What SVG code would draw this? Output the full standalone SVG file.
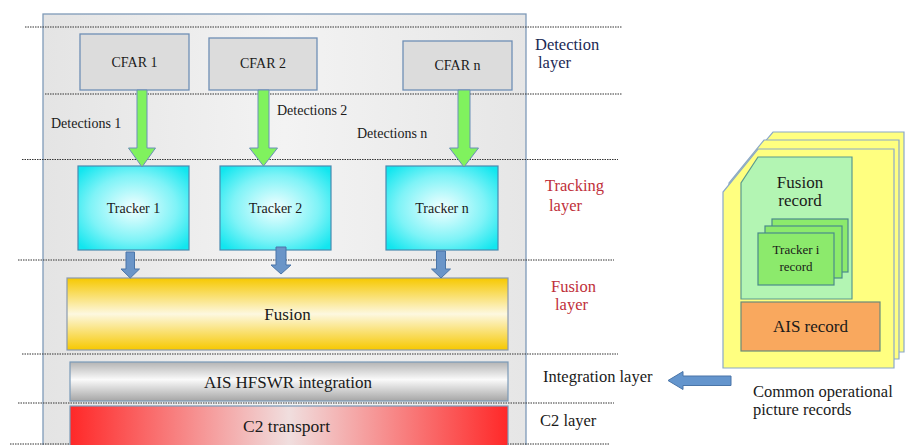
<svg xmlns="http://www.w3.org/2000/svg" width="922" height="445" viewBox="0 0 922 445" font-family="'Liberation Serif', 'Times New Roman', serif">
<defs>
<linearGradient id="gCont" x1="0" y1="0" x2="1" y2="0">
<stop offset="0" stop-color="#e4e4e4"/><stop offset="0.5" stop-color="#f3f3f3"/><stop offset="1" stop-color="#e6e6e6"/>
</linearGradient>
<radialGradient id="gTrk" cx="0.5" cy="0.5" r="0.65">
<stop offset="0" stop-color="#f2ffff"/><stop offset="0.6" stop-color="#7ef3f7"/><stop offset="1" stop-color="#12e6ef"/>
</radialGradient>
<linearGradient id="gFus" x1="0" y1="0" x2="0" y2="1">
<stop offset="0" stop-color="#f6c800"/><stop offset="0.5" stop-color="#fdf8e0"/><stop offset="1" stop-color="#f6c800"/>
</linearGradient>
<linearGradient id="gAis" x1="0" y1="0" x2="0" y2="1">
<stop offset="0" stop-color="#b4b4b4"/><stop offset="0.45" stop-color="#fafafa"/><stop offset="1" stop-color="#a6a6a6"/>
</linearGradient>
<linearGradient id="gC2" x1="0" y1="0" x2="1" y2="0">
<stop offset="0" stop-color="#ff2828"/><stop offset="0.5" stop-color="#f0dede"/><stop offset="1" stop-color="#ff2828"/>
</linearGradient>
<style>
text{font-family:'Liberation Serif','Times New Roman',serif;fill:#1a1a1a}
.dot{stroke:#333;stroke-width:1;stroke-dasharray:1.5 1;fill:none}
.cfar{fill:#dcdcdc;stroke:#6f8fb5;stroke-width:1.3}
.trk{fill:url(#gTrk);stroke:#4a8ab0;stroke-width:1.2}
.garr{fill:#80f25e;stroke:#6a8fb8;stroke-width:1}
.barr{fill:#6a95c8;stroke:#4a75a8;stroke-width:1}
.card{fill:#ffff80;stroke:#8aa8c8;stroke-width:1.2}
.t14{font-size:14px}
.t13{font-size:13px}
.t17{font-size:17px}
.mid{text-anchor:middle}
.red{fill:#c0303a}
.navy{fill:#1c2a55}
</style>
</defs>
<rect id="container" x="43" y="14" width="483" height="440" fill="url(#gCont)" stroke="#7f9ab8" stroke-width="1.3"/>
<g id="layer-lines">
<line class="dot" x1="25" y1="27" x2="622" y2="27"/>
<line class="dot" x1="45" y1="94" x2="622" y2="94"/>
<line class="dot" x1="22" y1="159.5" x2="618" y2="159.5"/>
<line class="dot" x1="18" y1="260" x2="614" y2="260"/>
<line class="dot" x1="22" y1="354" x2="618" y2="354"/>
<line class="dot" x1="18" y1="403" x2="614" y2="403"/>
<line class="dot" x1="10" y1="444" x2="610" y2="444"/>
</g>
<g id="cfar1"><rect class="cfar" x="80" y="34" width="109" height="56"/><text class="t14 mid" x="134.5" y="67" font-family="'Liberation Serif', serif">CFAR 1</text></g>
<g id="cfar2"><rect class="cfar" x="209" y="38" width="108" height="52"/><text class="t14 mid" x="263" y="68" font-family="'Liberation Serif', serif">CFAR 2</text></g>
<g id="cfarn"><rect class="cfar" x="403" y="41" width="109" height="49"/><text class="t14 mid" x="457.5" y="70" font-family="'Liberation Serif', serif">CFAR n</text></g>
<g id="tracker1"><rect class="trk" x="78" y="166" width="111" height="84"/><text class="t14 mid" x="133.5" y="213" font-family="'Liberation Serif', serif">Tracker 1</text></g>
<g id="tracker2"><rect class="trk" x="220" y="166" width="111" height="84"/><text class="t14 mid" x="275.5" y="213" font-family="'Liberation Serif', serif">Tracker 2</text></g>
<g id="trackern"><rect class="trk" x="386" y="166" width="112" height="84"/><text class="t14 mid" x="442" y="213" font-family="'Liberation Serif', serif">Tracker n</text></g>
<g id="fusion"><rect x="67" y="278" width="441" height="72" fill="url(#gFus)" stroke="#8a9ab0" stroke-width="1.2"/><text class="t17 mid" x="287.5" y="320" font-family="'Liberation Serif', serif">Fusion</text></g>
<g id="integration"><rect x="70" y="362" width="438" height="39" fill="url(#gAis)" stroke="#7a9ab8" stroke-width="1.2"/><text class="t17 mid" x="288" y="388" font-family="'Liberation Serif', serif">AIS HFSWR integration</text></g>
<g id="c2"><rect x="70" y="406" width="438" height="45" fill="url(#gC2)" stroke="#7a9ab8" stroke-width="1.2"/><text class="mid" style="font-size:17.5px" x="286.5" y="432" font-family="'Liberation Serif', serif">C2 transport</text></g>
<g id="connectors">
<polygon class="garr" points="137,90 147,90 147,148 155.5,148 142,167 128.5,148 137,148"/>
<polygon class="garr" points="258,90 269,90 269,148 277.5,148 263.5,166 249.5,148 258,148"/>
<polygon class="garr" points="458,90 470,90 470,148 478.5,148 464,167 449.5,148 458,148"/>
<polygon class="barr" points="126,252 134.5,252 134.5,269 139.5,269 130.25,278 121,269 126,269"/>
<polygon class="barr" points="276,247 286,247 286,265 291,265 281,274 271,265 276,265"/>
<polygon class="barr" points="436.5,251 445.5,251 445.5,269 450.5,269 441,278 431.5,269 436.5,269"/>
<polygon id="arrow-cop" class="barr" style="fill:#6495cd" points="731,376 731,385.5 683,385.5 683,389.5 668,380.5 683,371.5 683,376"/>
</g>
<g id="det-labels" font-family="'Liberation Serif', serif">
<text class="t14" x="51" y="128">Detections 1</text>
<text class="t14" x="277" y="115">Detections 2</text>
<text class="t14" x="357" y="138">Detections n</text>
</g>
<g id="layer-labels" font-family="'Liberation Serif', serif" font-size="16.5">
<text class="navy" x="535" y="50">Detection</text>
<text class="navy" x="538" y="68">layer</text>
<text class="red" x="545" y="191">Tracking</text>
<text class="red" x="549" y="211">layer</text>
<text class="red" x="551" y="292">Fusion</text>
<text class="red" x="555" y="310">layer</text>
<text x="543" y="382">Integration layer</text>
<text x="540" y="426">C2 layer</text>
</g>
<g id="cop-records" font-family="'Liberation Serif', serif">
<path class="card" d="M773,132 L904,132 L904,352 L737,352 L737,175 Z"/>
<path class="card" d="M764,140 L899,140 L899,359 L729,359 L729,183 Z"/>
<path class="card" d="M758,149 L894,149 L894,368 L723,368 L723,192 Z"/>
<g id="fusion-record">
<path d="M758,157 L852,157 L852,299 L741,299 L741,183 Z" fill="#b3f5b3" stroke="#5a9a90" stroke-width="1.2"/>
<text class="t17 mid" x="800" y="188">Fusion</text>
<text class="t17 mid" x="800" y="206">record</text>
</g>
<g id="tracker-i-record">
<rect x="772" y="219" width="76" height="53" fill="#8cea6c" stroke="#4a8a8a" stroke-width="1.2"/>
<rect x="765" y="226" width="77" height="52" fill="#8cea6c" stroke="#4a8a8a" stroke-width="1.2"/>
<rect x="758" y="233" width="76" height="52" fill="#8cea6c" stroke="#4a8a8a" stroke-width="1.2"/>
<text class="t13 mid" x="796" y="254">Tracker i</text>
<text class="t13 mid" x="796" y="271">record</text>
</g>
<g id="ais-record">
<rect x="741" y="302" width="139" height="49" fill="#f9a85e" stroke="#6a8a7a" stroke-width="1.2"/>
<text class="t17 mid" x="810.5" y="332">AIS record</text>
</g>
<text x="753" y="397" font-size="16.5">Common operational</text>
<text x="753" y="415" font-size="16.5">picture records</text>
</g>
</svg>
